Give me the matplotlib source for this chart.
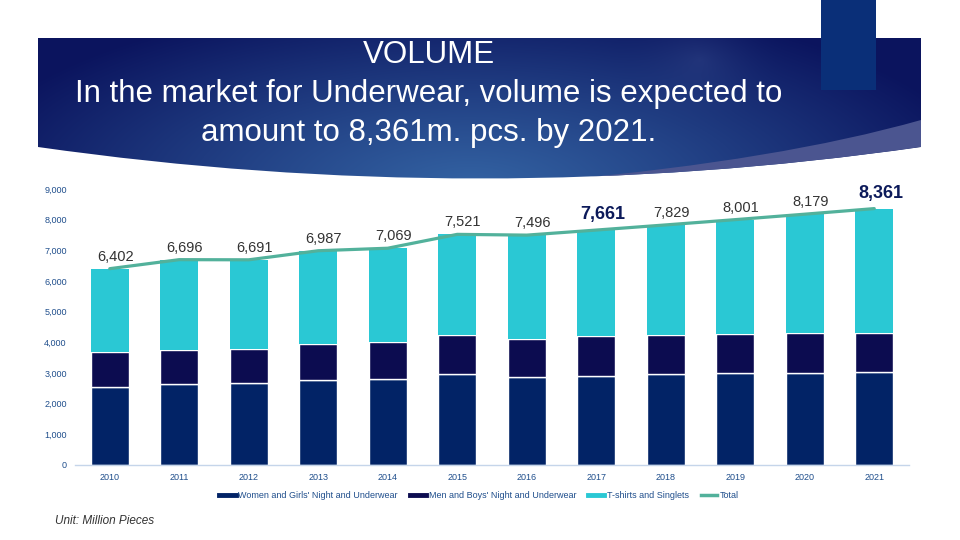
import numpy as np
import matplotlib
matplotlib.use("Agg")
import matplotlib.pyplot as plt
from matplotlib.path import Path
from matplotlib.patches import PathPatch, Rectangle
from matplotlib.lines import Line2D
from matplotlib.ticker import FuncFormatter

plt.rcParams['font.family'] = ['Liberation Sans', 'DejaVu Sans']

years = ['2010', '2011', '2012', '2013', '2014', '2015', '2016', '2017', '2018', '2019', '2020', '2021']
women = [2530, 2630, 2660, 2760, 2795, 2955, 2880, 2910, 2955, 2990, 2990, 3020]
men = [1160, 1110, 1110, 1195, 1205, 1275, 1240, 1285, 1275, 1270, 1305, 1290]
tshirts = [2712, 2956, 2921, 3032, 3069, 3291, 3376, 3466, 3599, 3741, 3884, 4051]
total = [6402, 6696, 6691, 6987, 7069, 7521, 7496, 7661, 7829, 8001, 8179, 8361]
bold_years = ['2017', '2021']
yticks = [0, 1000, 2000, 3000, 4000, 5000, 6000, 7000, 8000, 9000]

series_names = ["Women and Girls' Night and Underwear", "Men and Boys' Night and Underwear",
                "T-shirts and Singlets", "Total"]

c_women = '#022366'
c_men = '#0c0c50'
c_tee = '#2ac8d4'
c_total = '#52b19b'
c_tick = '#1f4e8c'

fig = plt.figure(figsize=(9.6, 5.4), dpi=100)

# ---- banner background ----
bg = fig.add_axes([0, 0, 1, 1], zorder=0)
bg.set_xlim(0, 960)
bg.set_ylim(540, 0)
bg.axis('off')

W, H = 960, 200
xx, yy = np.meshgrid(np.arange(W) + 0.5, np.arange(H) + 0.5)
d = np.sqrt(((xx - 470) / 520.0) ** 2 + ((yy - 185) / 190.0) ** 2)
t = np.clip(d, 0, 1) ** 1.1
light = np.array([0x33, 0x62, 0xa2]) / 255.0
dark = np.array([0x0b, 0x14, 0x5e]) / 255.0
img = light[None, None, :] * (1 - t[..., None]) + dark[None, None, :] * t[..., None]
d2 = np.sqrt(((xx - 700) / 90.0) ** 2 + ((yy - 60) / 70.0) ** 2)
g = np.clip(1 - d2, 0, 1) ** 2 * 0.25
img = img * (1 - g[..., None]) + (np.array([0x4a, 0x60, 0xa0]) / 255.0)[None, None, :] * g[..., None]
im = bg.imshow(img, extent=(0, W, H, 0), zorder=1, interpolation='bilinear')

verts = [(38, 38), (921, 38), (921, 147), (480, 210), (38, 147), (38, 38)]
codes = [Path.MOVETO, Path.LINETO, Path.LINETO, Path.CURVE3, Path.CURVE3, Path.CLOSEPOLY]
banner = PathPatch(Path(verts, codes), facecolor='none', edgecolor='none')
bg.add_patch(banner)
im.set_clip_path(banner)

band_verts = [(921, 120), (921, 147), (760, 172), (560, 180), (780, 160), (921, 120)]
band_codes = [Path.MOVETO, Path.LINETO, Path.CURVE3, Path.CURVE3, Path.CURVE3, Path.CURVE3]
band = PathPatch(Path(band_verts, band_codes), facecolor='#4b5590', edgecolor='none', zorder=2)
bg.add_patch(band)
band.set_clip_path(banner)

bg.add_patch(Rectangle((821, 0), 55, 90, facecolor='#0a2f78', edgecolor='none', zorder=3))

title_lines = ["VOLUME",
               "In the market for Underwear, volume is expected to",
               "amount to 8,361m. pcs. by 2021."]
for i, line in enumerate(title_lines):
    bg.text(429, 55 + 39 * i, line, color='white', fontsize=22.5, ha='center', va='center', zorder=4)

bg.text(55, 521, "Unit: Million Pieces", color='#333333', fontsize=8.5, style='italic',
        ha='left', va='center', zorder=4)

# ---- chart ----
ax = fig.add_axes([75 / 960, 75 / 540, 834 / 960, 276 / 540], zorder=2)
ax.patch.set_alpha(0)
x = np.arange(len(years))
bw = 0.55
ax.bar(x, women, bw, color=c_women, edgecolor='white', linewidth=1, zorder=2)
ax.bar(x, men, bw, bottom=women, color=c_men, edgecolor='white', linewidth=1, zorder=2)
base2 = np.array(women) + np.array(men)
ax.bar(x, tshirts, bw, bottom=base2, color=c_tee, edgecolor='none', linewidth=0, zorder=2)
ax.plot(x, total, color=c_total, linewidth=2.3, zorder=3, solid_capstyle='round')

for xi, yr, tv in zip(x, years, total):
    if yr in bold_years:
        ax.annotate(f"{tv:,}", (xi, tv), xytext=(5, 5), textcoords='offset points',
                    ha='center', va='bottom', fontsize=13, fontweight='bold', color='#0c1a5a',
                    annotation_clip=False)
    else:
        ax.annotate(f"{tv:,}", (xi, tv), xytext=(4, 3.5), textcoords='offset points',
                    ha='center', va='bottom', fontsize=10.5, color='#333333',
                    annotation_clip=False)

ax.set_xlim(-0.5, len(years) - 0.5)
ax.set_ylim(0, 9000)
ax.set_yticks(yticks)
ax.yaxis.set_major_formatter(FuncFormatter(lambda v, p: f"{int(v):,}"))
ax.set_xticks(x)
ax.set_xticklabels(years)
ax.tick_params(axis='both', length=0, labelsize=6.5, labelcolor=c_tick)
ax.tick_params(axis='y', pad=6)
ax.tick_params(axis='x', pad=6)
for s in ['top', 'right', 'left']:
    ax.spines[s].set_visible(False)
ax.spines['bottom'].set_color('#c5d5ea')
ax.spines['bottom'].set_linewidth(1)

handles = [Line2D([], [], color=c_women, linewidth=3.5),
           Line2D([], [], color=c_men, linewidth=3.5),
           Line2D([], [], color=c_tee, linewidth=3.5),
           Line2D([], [], color=c_total, linewidth=2.5)]
leg = fig.legend(handles, series_names, loc='center', bbox_to_anchor=(479 / 960, 1 - 496 / 540),
                 ncol=4, frameon=False, fontsize=6.5, handlelength=1.8, handletextpad=0.3,
                 columnspacing=1.3)
for txt in leg.get_texts():
    txt.set_color(c_tick)

fig.savefig('out.png', dpi=100)
